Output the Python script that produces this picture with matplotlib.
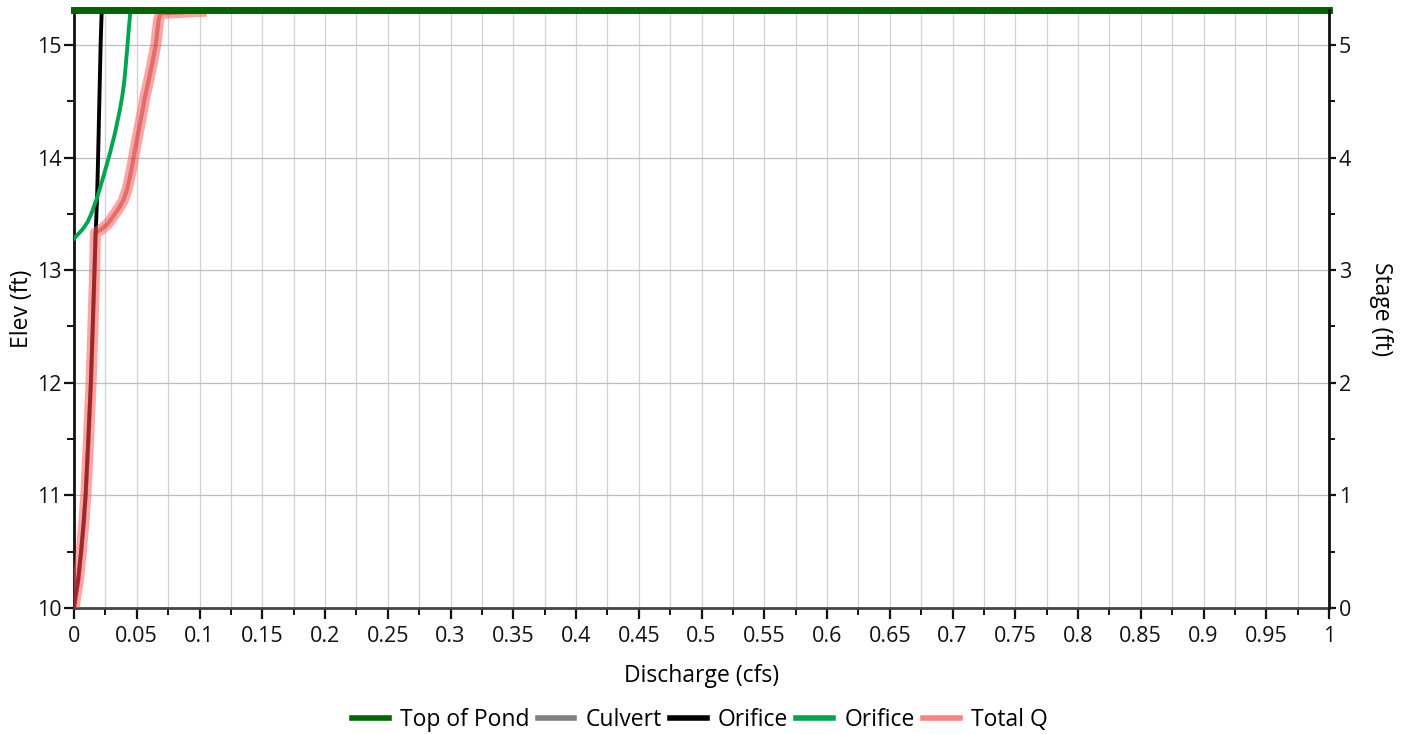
import matplotlib
matplotlib.use("Agg")
import matplotlib.pyplot as plt
from matplotlib.ticker import MultipleLocator, FuncFormatter
from matplotlib.lines import Line2D

plt.rcParams['font.family'] = ['Open Sans', 'DejaVu Sans']

# ---- data ----
top_of_pond_elev = 15.31
top_of_pond_q = [0.0, 1.0]

culvert_q = []
culvert_elev = []

orifice1_elev = [10.0, 10.1, 10.25, 10.5, 10.75, 11.0, 11.5, 12.0, 12.5, 13.0, 13.3, 13.65, 14.0, 14.5, 15.0, 15.31]
orifice1_q = [0.0, 0.0012, 0.0033, 0.0056, 0.0076, 0.0092, 0.0114, 0.0134, 0.0149, 0.0163, 0.0172, 0.0184, 0.0192, 0.0202, 0.0212, 0.0221]

orifice2_elev = [13.28, 13.31, 13.34, 13.37, 13.43, 13.51, 13.65, 13.83, 14.04, 14.22, 14.42, 14.54, 14.66, 14.80,
                 14.93, 15.05, 15.16, 15.33]
orifice2_q = [0.0, 0.0025, 0.0050, 0.0074, 0.0110, 0.0141, 0.0186, 0.0234, 0.0287, 0.0327, 0.0365, 0.0384, 0.0399,
              0.0411, 0.0421, 0.0430, 0.0438, 0.0452]

total_elev = [10.0, 10.1, 10.25, 10.5, 10.75, 11.0, 11.5, 12.0, 12.5, 13.0, 13.33, 13.36, 13.41, 13.48, 13.55, 13.62,
              13.72, 13.83, 13.95, 14.07, 14.30, 14.54, 14.68, 14.81, 15.01, 15.14, 15.22, 15.28, 15.30]
total_q = [0.0, 0.0014, 0.0035, 0.0058, 0.0078, 0.0094, 0.0116, 0.0136, 0.0151, 0.0165, 0.0170, 0.0215, 0.0268,
           0.0313, 0.0357, 0.0393, 0.0424, 0.0446, 0.0467, 0.0486, 0.0526, 0.0566, 0.0594, 0.0619, 0.0653, 0.0666,
           0.0674, 0.0690, 0.1057]

xticks = [round(i * 0.05, 2) for i in range(21)]

# ---- figure ----
fig = plt.figure(figsize=(14.11, 7.34), dpi=100)
ax = fig.add_axes([74 / 1411, 1 - 608 / 734, (1329 - 74) / 1411, (608 - 10) / 734])

ax.set_xlim(0, 1)
ax.set_ylim(10, 15.31)

ax.set_xticks(xticks)
ax.set_xticklabels([f"{v:g}" for v in xticks])
ax.xaxis.set_minor_locator(MultipleLocator(0.025))
ax.yaxis.set_major_locator(MultipleLocator(1))
ax.yaxis.set_minor_locator(MultipleLocator(0.5))
ax.yaxis.set_major_formatter(FuncFormatter(lambda v, p: f"{v:g}"))

ax.grid(True, which='major', axis='y', color='#bdbdbd', lw=0.9)
ax.grid(True, which='both', axis='x', color='#d2d2d2', lw=0.9)
ax.set_axisbelow(True)

for s in ['top', 'right']:
    ax.spines[s].set_visible(False)
ax.spines['left'].set_color('#111111')
ax.spines['left'].set_linewidth(2)
ax.spines['bottom'].set_color('#444444')
ax.spines['bottom'].set_linewidth(2)

ax.tick_params(axis='both', which='major', length=7, width=1.6, labelsize=15.5, colors='#111111', pad=2)
ax.tick_params(axis='both', which='minor', length=5, width=1.4, colors='#111111')
ax.tick_params(axis='x', which='major', length=8, pad=5)

# lines
ax.plot(culvert_q, culvert_elev, color='#808080', lw=3, label='Culvert')
ax.plot(orifice1_q, orifice1_elev, color='black', lw=2.8, label='Orifice', zorder=3)
ax.plot(orifice2_q, orifice2_elev, color='#00a550', lw=2.8, label='Orifice', zorder=3)
ax.plot(total_q, total_elev, color='#ff5a5a', lw=8, alpha=0.55, solid_capstyle='butt', zorder=4)
ax.plot(total_q, total_elev, color='#b02020', lw=3, alpha=0.4, zorder=4)
ax.plot(top_of_pond_q, [top_of_pond_elev] * 2, color='#006400', lw=5, clip_on=False, zorder=5)

ax.set_xlabel('Discharge (cfs)', fontsize=16.5, labelpad=12)
ax.set_ylabel('Elev (ft)', fontsize=16.5, labelpad=2)

# right axis (stage)
ax2 = ax.twinx()
ax2.set_ylim(0, 5.31)
ax2.yaxis.set_major_locator(MultipleLocator(1))
ax2.yaxis.set_minor_locator(MultipleLocator(0.5))
ax2.yaxis.set_major_formatter(FuncFormatter(lambda v, p: f"{v:g}"))
for s in ['top', 'left', 'bottom']:
    ax2.spines[s].set_visible(False)
ax2.spines['right'].set_color('#111111')
ax2.spines['right'].set_linewidth(2)
ax2.tick_params(axis='y', which='major', length=5, width=1.6, labelsize=15.5, colors='#111111', pad=2)
ax2.tick_params(axis='y', which='minor', length=4, width=1.4, colors='#111111')
ax2.set_ylabel('Stage (ft)', fontsize=16.5, rotation=270, labelpad=30)

# legend
handles = [
    Line2D([], [], color='#006400', lw=4),
    Line2D([], [], color='#808080', lw=4),
    Line2D([], [], color='black', lw=4),
    Line2D([], [], color='#00a550', lw=4),
    Line2D([], [], color='#ff8080', lw=4),
]
labels = ['Top of Pond', 'Culvert', 'Orifice', 'Orifice', 'Total Q']
fig.legend(handles, labels, loc='center', bbox_to_anchor=(0.496, 1 - 720 / 734), ncol=5, frameon=False,
           fontsize=16.5, handlelength=1.6, handletextpad=0.5, columnspacing=0.35)

fig.savefig('out.png', dpi=100)
